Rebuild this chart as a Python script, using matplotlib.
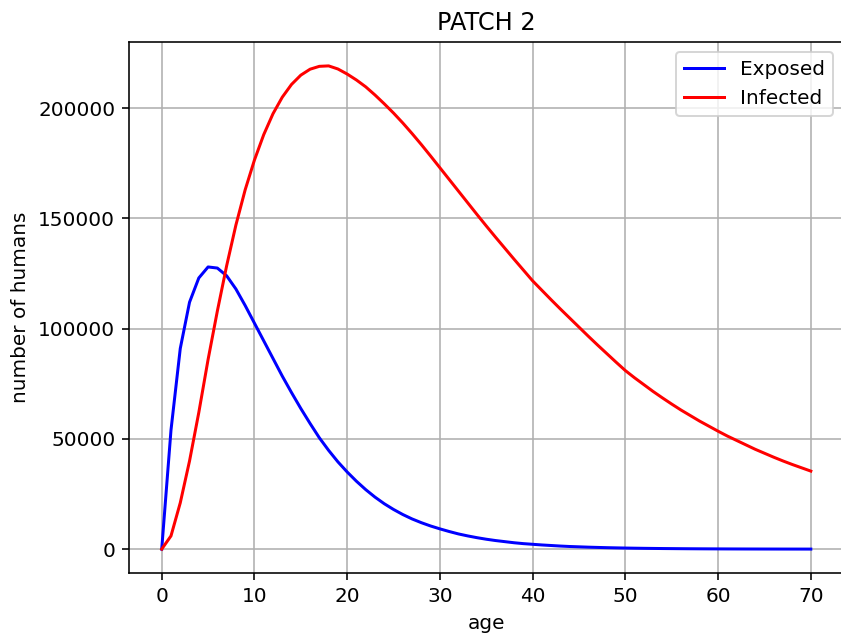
import matplotlib
matplotlib.use("Agg")
import matplotlib.pyplot as plt

# ages 0..70 (one value per year)
age = list(range(71))

exposed = [
    0, 54000, 91000, 112000, 123000, 128000, 127500, 124000, 118000, 110500,
    102500, 94500, 86500, 78500, 71000, 63800, 57000, 50500, 44800, 39600,
    35000, 30800, 27000, 23600, 20600, 18000, 15700, 13700, 12000, 10500,
    9200, 8000, 6900, 6000, 5200, 4500, 3900, 3400, 2900, 2500,
    2200, 1900, 1650, 1400, 1200, 1050, 900, 780, 670, 580,
    500, 430, 370, 320, 275, 240, 205, 175, 150, 130,
    112, 96, 83, 71, 61, 53, 45, 39, 34, 29, 25,
]

infected = [
    0, 6000, 21000, 40000, 62000, 86000, 108000, 128500, 147000, 163000,
    176500, 188000, 197500, 205000, 210800, 215000, 217700, 219000, 219200, 217800,
    215500, 212800, 209700, 206000, 202000, 197800, 193300, 188500, 183500, 178300,
    173000, 167700, 162400, 157100, 151800, 146600, 141500, 136500, 131500, 126600,
    121700, 117400, 113100, 108900, 104800, 100700, 96600, 92600, 88700, 84800,
    81000, 77700, 74600, 71500, 68600, 65800, 63100, 60600, 58100, 55800,
    53500, 51300, 49300, 47300, 45300, 43500, 41700, 40000, 38400, 36900, 35400,
]

fig = plt.figure(figsize=(841 / 144, 642 / 144), dpi=144)
ax = fig.add_axes([0.1537, 0.107, 0.8490, 0.828])

ax.plot(age, exposed, color="blue", label="Exposed")
ax.plot(age, infected, color="red", label="Infected")

ax.set_title("PATCH 2")
ax.set_xlabel("age")
ax.set_ylabel("number of humans")
ax.grid(True)
ax.legend(loc="upper right")
# the right edge of the axes falls just outside the saved picture
ax.spines["right"].set_visible(False)

fig.savefig("out.png", dpi=144)
